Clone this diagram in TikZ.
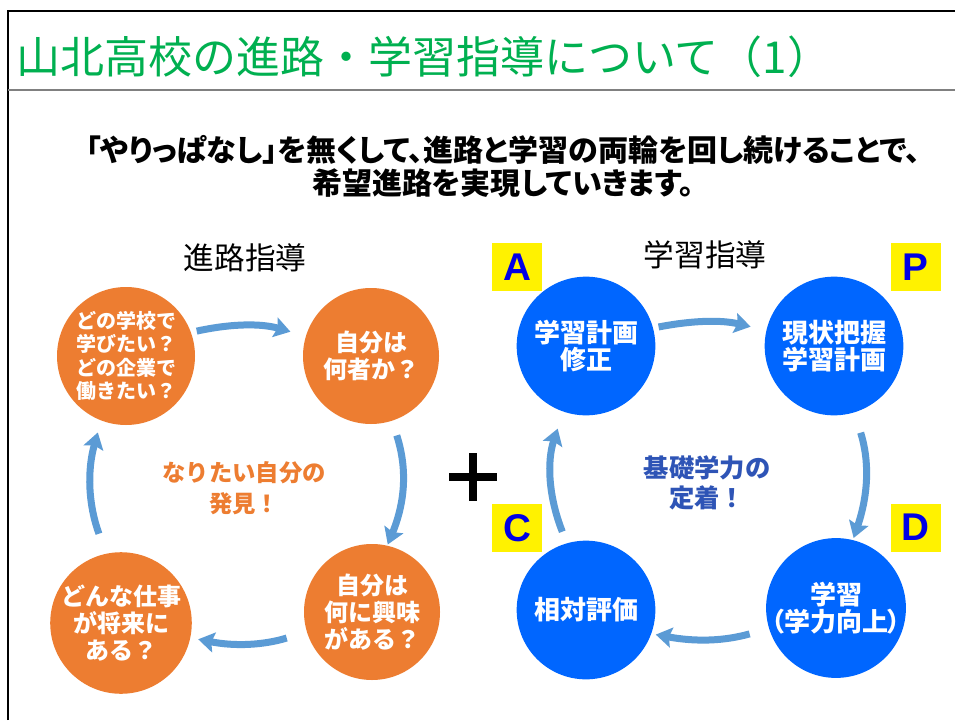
\documentclass[tikz,border=0pt]{standalone}
\usepackage{fontspec}
\usepackage{xcolor}
\usetikzlibrary{arrows.meta}

\newfontfamily\jpfont{Noto Sans CJK JP}
\newfontfamily\jpprop[RawFeature=+palt]{Noto Sans CJK JP}
\newfontfamily\enfont{Liberation Sans}

\definecolor{titlegreen}{RGB}{0,176,80}
\definecolor{ballorange}{RGB}{237,125,49}
\definecolor{ballblue}{RGB}{0,102,255}
\definecolor{flowblue}{RGB}{91,155,213}
\definecolor{tagblue}{RGB}{0,0,230}
\definecolor{textblue}{RGB}{46,84,182}

\tikzset{
  ball/.style={circle, inner sep=0pt, text=white, align=center},
  orangeball/.style={ball, fill=ballorange, minimum size=102pt, font=\jpfont\bfseries\fontsize{18}{20}\selectfont},
  blueball/.style={ball, fill=ballblue, minimum size=104pt, font=\jpprop\bfseries\fontsize{19.5}{20}\selectfont},
  tag/.style={fill=yellow, minimum width=37.5pt, minimum height=36pt, inner sep=0pt, text=tagblue, font=\enfont\bfseries\fontsize{29}{29}\selectfont},
  flow/.style={flowblue, line width=5.25pt, -{Stealth[length=12pt, width=15pt, inset=2pt]}},
}

\begin{document}
\begin{tikzpicture}[x=0.75pt, y=-0.75pt]
\useasboundingbox (0,0) rectangle (955,720);
\fill[white] (0,0) rectangle (955,720);

% Frame and title
\draw[line width=2pt] (8,720) -- (8,11) -- (955,11);
\draw[gray, line width=0.9pt] (8,90) -- (955,90);
\node[anchor=west, inner sep=0pt, text=titlegreen, font=\jpfont\fontsize{33}{33}\selectfont] (title) at (16,57) {山北高校の進路・学習指導について（1）};
\node[align=center, font=\jpprop\bfseries\fontsize{22.5}{24.75}\selectfont] (lead) at (503,166) {「やりっぱなし」を無くして、進路と学習の両輪を回し続けることで、\\希望進路を実現していきます。};

% Headings
\node[font=\jpfont\fontsize{23}{23}\selectfont] (careerhead) at (245,258) {進路指導};
\node[font=\jpfont\fontsize{23}{23}\selectfont] (studyhead) at (705,255) {学習指導};

% Career cycle
\node[orangeball, minimum size=103.5pt, font=\jpfont\bfseries\fontsize{15}{17.6}\selectfont] (school) at (126,356) {どの学校で\\学びたい？\\どの企業で\\働きたい？};
\node[orangeball] (self) at (371,356) {自分は\\何者か？};
\node[orangeball] (interest) at (372,612) {自分は\\何に興味\\がある？};
\node[orangeball, minimum size=99pt] (job) at (121,623) {どんな仕事\\が将来に\\ある？};
\node[align=center, text=ballorange, font=\jpfont\bfseries\fontsize{17.5}{23}\selectfont] (discover) at (244,488) {なりたい自分の\\発見！};

\draw[flow, shorten <=4.3pt, shorten >=11.9pt] (school.20) to[bend left=14] (self.163);
\draw[flow, shorten <=11.4pt, shorten >=0.8pt] (self.-72) to[bend left=20] (interest.77);
\draw[flow, shorten <=15.7pt, shorten >=5.9pt] (interest.197) to[bend left=14] (job.-12);
\draw[flow, shorten <=15.8pt, shorten >=9.2pt] (job.102) to[bend left=18] (school.-111);

% Plus sign
\draw[line width=6pt] (449,477) -- (497,477) (473,453) -- (473,501);

% Study cycle (PDCA)
\node[blueball] (act) at (586,346) {学習計画\\修正};
\node[blueball] (plan) at (834,346) {現状把握\\学習計画};
\node[blueball] (do) at (836,608) {学習\\（学力向上）};
\node[blueball] (check) at (586,610) {相対評価};
\node[align=center, text=textblue, font=\jpfont\bfseries\fontsize{19}{23}\selectfont] (settle) at (707,483) {基礎学力の\\定着！};

\node[tag] (tagA) at (517,267) {A};
\node[tag] (tagP) at (915.5,267) {P};
\node[tag] (tagC) at (517,528) {C};
\node[tag] (tagD) at (915.5,527.5) {D};

\draw[flow, shorten <=4.1pt, shorten >=12pt] (act.15) to[bend left=12] (plan.167);
\draw[flow, shorten <=15.8pt, shorten >=1.5pt] (plan.-73) to[bend left=18] (do.76);
\draw[flow, shorten <=15pt, shorten >=3.3pt] (do.197) to[bend left=13] (check.-20);
\draw[flow, shorten <=9.2pt, shorten >=13.3pt] (check.106) to[bend left=20] (act.-109);
\end{tikzpicture}
\end{document}
